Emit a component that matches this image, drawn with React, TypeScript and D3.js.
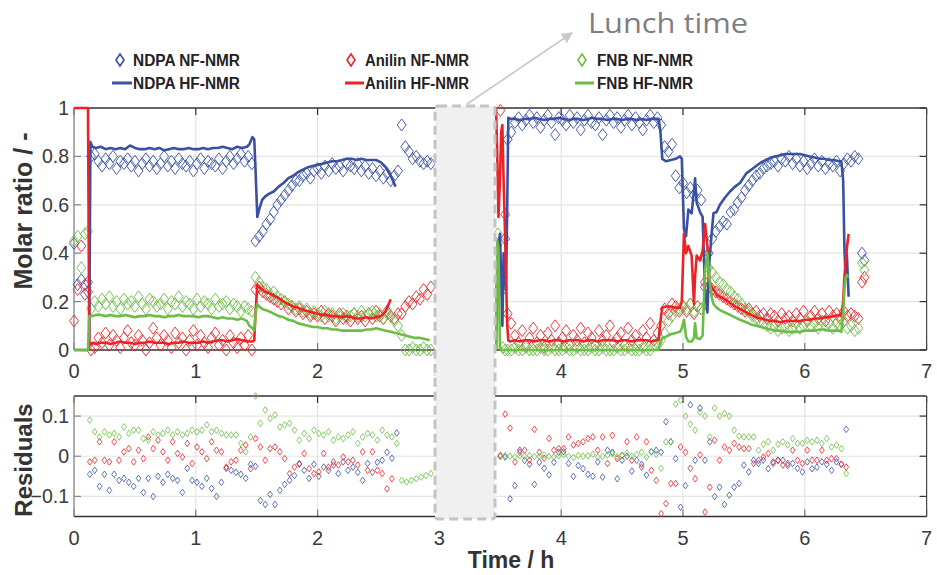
import React from 'react';
import * as d3 from 'd3';

// ---------------- DATA ----------------
// NF-NMR (benchtop) sampling times, h
const tNF = [
  0.0, 0.03, 0.06, 0.09, 0.115,
  0.14, 0.17, 0.2, 0.23, 0.26, 0.29, 0.32, 0.35, 0.38, 0.41, 0.44, 0.47, 0.5, 0.53, 0.56, 0.59, 0.62, 0.65, 0.68, 0.71, 0.74, 0.77, 0.8, 0.83, 0.86, 0.89, 0.92, 0.95, 0.98, 1.01, 1.04, 1.07, 1.1, 1.13, 1.16, 1.19, 1.22, 1.25, 1.28, 1.31, 1.34, 1.37, 1.4, 1.43, 1.46,
  1.49, 1.52, 1.55, 1.58, 1.61, 1.64, 1.67, 1.7, 1.73, 1.76, 1.79, 1.82, 1.85, 1.88, 1.91, 1.94, 1.97, 2.0, 2.03, 2.06, 2.09, 2.12, 2.15, 2.18, 2.21, 2.24, 2.27, 2.3, 2.33, 2.36, 2.39, 2.42, 2.45, 2.48, 2.51, 2.54, 2.57, 2.6, 2.63, 2.66, 2.69, 2.72, 2.75, 2.78, 2.81, 2.84, 2.87, 2.9, 2.93,
  3.48, 3.5, 3.52, 3.54, 3.56,
  3.59, 3.62, 3.65, 3.68, 3.71, 3.74, 3.77, 3.8, 3.83, 3.86, 3.89, 3.92, 3.95, 3.98, 4.01, 4.04, 4.07, 4.1, 4.13, 4.16, 4.19, 4.22, 4.25, 4.28, 4.31, 4.34, 4.37, 4.4, 4.43, 4.46, 4.49, 4.52, 4.55, 4.58, 4.61, 4.64, 4.67, 4.7, 4.73, 4.76, 4.79,
  4.82, 4.85, 4.88, 4.91, 4.94, 4.97,
  5.0, 5.03, 5.06, 5.09, 5.12, 5.15, 5.18, 5.21, 5.24,
  5.27, 5.3, 5.33, 5.36, 5.39, 5.42, 5.45, 5.48, 5.51, 5.54, 5.57, 5.6, 5.63, 5.66, 5.69, 5.72, 5.75, 5.78, 5.81, 5.84, 5.87, 5.9, 5.93, 5.96, 5.99, 6.02, 6.05, 6.08, 6.11, 6.14, 6.17, 6.2, 6.23, 6.26, 6.29, 6.32, 6.35, 6.38, 6.41, 6.44,
  6.47, 6.49,
];

const ndpaNF = [
  0.44, 0.27, 0.29, 0.23, 0.28,
  0.8, 0.81, 0.78, 0.76, 0.79, 0.77, 0.8, 0.75, 0.78, 0.77, 0.79, 0.76, 0.78, 0.74, 0.77, 0.79, 0.76, 0.78, 0.75, 0.77, 0.8, 0.76, 0.78, 0.75, 0.79, 0.77, 0.76, 0.78, 0.74, 0.77, 0.79, 0.75, 0.78, 0.77, 0.76, 0.79, 0.75, 0.78, 0.8, 0.77, 0.79, 0.81, 0.78, 0.8, 0.77,
  0.45, 0.47, 0.49, 0.52, 0.54, 0.57, 0.6, 0.62, 0.64, 0.66, 0.68, 0.7, 0.7, 0.72, 0.73, 0.71, 0.74, 0.75, 0.73, 0.76, 0.74, 0.77, 0.75, 0.76, 0.74, 0.77, 0.76, 0.75, 0.77, 0.74, 0.76, 0.73, 0.75, 0.72, 0.74, 0.71, 0.73, 0.7, 0.72, 0.74, 0.93, 0.84, 0.82, 0.79, 0.8, 0.78, 0.77, 0.78, 0.77,
  0.27, 0.25, 0.3, 0.46, 0.87,
  0.9, 0.94, 0.96, 0.93, 0.95, 0.97, 0.94, 0.96, 0.92, 0.95, 0.97, 0.94, 0.89, 0.96, 0.95, 0.93, 0.97, 0.94, 0.96, 0.91, 0.95, 0.97, 0.94, 0.93, 0.96, 0.89, 0.95, 0.97, 0.94, 0.96, 0.92, 0.95, 0.97, 0.93, 0.96, 0.94, 0.91, 0.95, 0.97, 0.94, 0.96,
  0.93, 0.84, 0.82, 0.85, 0.72, 0.67,
  0.69, 0.65, 0.67, 0.64, 0.66, 0.62, 0.26, 0.4, 0.46,
  0.49, 0.51, 0.53, 0.52, 0.57, 0.58, 0.61, 0.63, 0.66, 0.68, 0.7, 0.72, 0.73, 0.75, 0.76, 0.77, 0.78, 0.76, 0.79, 0.78, 0.8, 0.77, 0.79, 0.76, 0.78, 0.75, 0.77, 0.79, 0.76, 0.78, 0.75, 0.77, 0.76, 0.78, 0.74, 0.77, 0.79, 0.78, 0.8, 0.79,
  0.4, 0.37,
];

const anilinNF = [
  0.12, 0.25, 0.43, 0.27, 0.24,
  0.0, 0.01, 0.05, 0.03, 0.07, 0.02, 0.06, 0.04, 0.01, 0.05, 0.08, 0.03, 0.02, 0.06, 0.04, 0.0, 0.03, 0.09, 0.05, 0.02, 0.06, 0.04, 0.01, 0.07, 0.03, 0.05, 0.0, 0.04, 0.08, 0.02, 0.06, 0.03, 0.01, 0.05, 0.07, 0.02, 0.04, 0.0, 0.06, 0.03, 0.01, 0.05, 0.02, 0.06, 0.0,
  0.25, 0.26, 0.24, 0.23, 0.22, 0.21, 0.2, 0.19, 0.2, 0.17, 0.18, 0.16, 0.17, 0.15, 0.16, 0.14, 0.15, 0.14, 0.16, 0.13, 0.15, 0.14, 0.12, 0.15, 0.13, 0.14, 0.12, 0.15, 0.13, 0.14, 0.12, 0.15, 0.13, 0.16, 0.14, 0.13, 0.16, 0.14, 0.13, 0.15, 0.15, 0.18, 0.2, 0.19, 0.22, 0.21, 0.25, 0.23, 0.26,
  0.28, 0.99, 0.25, 0.56, 0.15,
  0.11, 0.06, 0.03, 0.08, 0.02, 0.05, 0.09, 0.03, 0.06, 0.01, 0.07, 0.04, 0.1, 0.03, 0.05, 0.08, 0.02, 0.06, 0.04, 0.09, 0.03, 0.07, 0.05, 0.02, 0.08, 0.04, 0.06, 0.1, 0.03, 0.05, 0.07, 0.02, 0.09, 0.04, 0.06, 0.03, 0.08, 0.05, 0.11, 0.04, 0.07,
  0.1, 0.17, 0.15, 0.19, 0.18, 0.16,
  0.18, 0.16, 0.19, 0.15, 0.18, 0.17, 0.28, 0.26, 0.25,
  0.24, 0.23, 0.22, 0.21, 0.2, 0.19, 0.18, 0.17, 0.16, 0.17, 0.15, 0.16, 0.14, 0.15, 0.13, 0.15, 0.14, 0.12, 0.15, 0.13, 0.14, 0.12, 0.15, 0.13, 0.16, 0.12, 0.14, 0.16, 0.13, 0.15, 0.12, 0.16, 0.14, 0.15, 0.13, 0.16, 0.14, 0.15, 0.14, 0.13,
  0.28, 0.3,
];

const fnbNF = [
  0.45, 0.47, 0.34, 0.48, 0.49,
  0.17, 0.2, 0.18, 0.21, 0.19, 0.22, 0.18, 0.2, 0.17, 0.21, 0.19, 0.2, 0.18, 0.22, 0.19, 0.17, 0.21, 0.2, 0.18, 0.19, 0.21, 0.17, 0.2, 0.19, 0.22, 0.18, 0.2, 0.19, 0.17, 0.21, 0.18, 0.2, 0.19, 0.17, 0.21, 0.18, 0.19, 0.2, 0.17, 0.19, 0.18, 0.16, 0.18, 0.17, 0.16,
  0.3, 0.28, 0.26, 0.25, 0.23, 0.24, 0.22, 0.21, 0.2, 0.19, 0.18, 0.17, 0.18, 0.16, 0.17, 0.15, 0.16, 0.15, 0.14, 0.16, 0.14, 0.15, 0.13, 0.14, 0.15, 0.13, 0.14, 0.15, 0.14, 0.16, 0.14, 0.15, 0.16, 0.14, 0.15, 0.13, 0.15, 0.14, 0.12, 0.1, 0.06, 0.0, 0.0, 0.01, 0.0, 0.0, 0.01, 0.0, 0.0,
  0.48, 0.45, 0.01, 0.0, 0.0,
  0.0, 0.01, 0.0, 0.0, 0.01, 0.0, 0.0, 0.0, 0.01, 0.0, 0.0, 0.01, 0.0, 0.0, 0.0, 0.01, 0.0, 0.0, 0.01, 0.0, 0.0, 0.0, 0.01, 0.0, 0.0, 0.01, 0.0, 0.0, 0.0, 0.01, 0.0, 0.0, 0.01, 0.0, 0.0, 0.0, 0.01, 0.0, 0.0, 0.02, 0.03,
  0.04, 0.07, 0.12, 0.14, 0.16, 0.17,
  0.18, 0.17, 0.19, 0.16, 0.18, 0.17, 0.38, 0.34, 0.32,
  0.3, 0.28, 0.27, 0.25, 0.24, 0.22, 0.21, 0.19, 0.17, 0.16, 0.14, 0.13, 0.12, 0.11, 0.1, 0.09, 0.1, 0.08, 0.09, 0.1, 0.08, 0.09, 0.11, 0.09, 0.1, 0.12, 0.1, 0.11, 0.09, 0.12, 0.1, 0.11, 0.09, 0.11, 0.1, 0.12, 0.09, 0.1, 0.08, 0.09,
  0.36, 0.33,
];

// HF-NMR (high field) times, first session
const tHF1 = [
  0.0, 0.115, 0.125, 0.135, 0.15,
  0.18, 0.22, 0.26, 0.3, 0.34, 0.38, 0.42, 0.46, 0.5, 0.54, 0.58, 0.62, 0.66, 0.7, 0.74, 0.78, 0.82, 0.86, 0.9, 0.94, 0.98, 1.02, 1.06, 1.1, 1.14, 1.18, 1.22, 1.26, 1.3, 1.34, 1.38, 1.42,
  1.44, 1.465, 1.48, 1.49, 1.505, 1.52, 1.545, 1.57,
  1.6, 1.64, 1.68, 1.72, 1.76, 1.8, 1.84, 1.88, 1.92, 1.96, 2.0, 2.04, 2.08, 2.12, 2.16, 2.2, 2.24, 2.28, 2.32, 2.36, 2.4, 2.44, 2.48, 2.52, 2.56, 2.6, 2.64, 2.68, 2.72, 2.76, 2.8, 2.84, 2.88, 2.92,
];
const ndpaHF1 = [
  0, 0, 0.02, 0.86, 0.84,
  0.835, 0.84, 0.83, 0.835, 0.83, 0.835, 0.83, 0.845, 0.835, 0.83, 0.83, 0.835, 0.83, 0.835, 0.825, 0.83, 0.835, 0.83, 0.83, 0.835, 0.83, 0.83, 0.835, 0.83, 0.835, 0.835, 0.84, 0.835, 0.83, 0.84, 0.835, 0.84,
  0.85, 0.88, 0.87, 0.75, 0.55, 0.58, 0.62, 0.635,
  0.645, 0.655, 0.675, 0.69, 0.71, 0.72, 0.735, 0.745, 0.755, 0.76, 0.765, 0.77, 0.775, 0.78, 0.78, 0.785, 0.79, 0.79, 0.785, 0.79, 0.785, 0.785, 0.785, 0.775, 0.755, 0.72, 0.675, null, null, null, null, null, null, null,
];
const anilinHF1 = [
  1, 1, 0.03, 0.025, 0.03,
  0.025, 0.03, 0.03, 0.025, 0.03, 0.035, 0.03, 0.03, 0.025, 0.03, 0.03, 0.035, 0.03, 0.03, 0.03, 0.025, 0.03, 0.03, 0.035, 0.03, 0.03, 0.03, 0.035, 0.03, 0.035, 0.04, 0.04, 0.035, 0.04, 0.045, 0.04, 0.035,
  0.035, 0.035, 0.04, 0.15, 0.27, 0.26, 0.25, 0.24,
  0.235, 0.225, 0.215, 0.2, 0.19, 0.18, 0.175, 0.165, 0.16, 0.155, 0.15, 0.145, 0.145, 0.14, 0.14, 0.135, 0.14, 0.135, 0.13, 0.13, 0.135, 0.13, 0.135, 0.14, 0.16, 0.21, null, null, null, null, null, null, null, null,
];
const fnbHF1 = [
  0, 0, 0.14, 0.14, 0.14,
  0.145, 0.145, 0.14, 0.145, 0.14, 0.14, 0.145, 0.14, 0.135, 0.14, 0.14, 0.145, 0.14, 0.14, 0.135, 0.14, 0.14, 0.145, 0.14, 0.14, 0.14, 0.135, 0.14, 0.14, 0.135, 0.13, 0.135, 0.13, 0.13, 0.125, 0.13, 0.12,
  0.1, 0.09, 0.08, 0.15, 0.19, 0.18, 0.17, 0.165,
  0.16, 0.15, 0.14, 0.135, 0.125, 0.12, 0.11, 0.105, 0.1, 0.095, 0.095, 0.09, 0.09, 0.085, 0.085, 0.08, 0.08, 0.08, 0.08, 0.08, 0.085, 0.085, 0.09, 0.085, 0.08, 0.075, 0.07, 0.065, 0.06, 0.055, 0.05, 0.05, 0.045, 0.04,
];

// HF-NMR, second session (after lunch)
const tHF2 = [
  3.465, 3.475, 3.485, 3.497, 3.507, 3.517, 3.527, 3.537, 3.547, 3.557, 3.566, 3.58,
  3.62, 3.66, 3.7, 3.74, 3.78, 3.82, 3.86, 3.9, 3.94, 3.98, 4.02, 4.06, 4.1, 4.14, 4.18, 4.22, 4.26, 4.3, 4.34, 4.38, 4.42, 4.46, 4.5, 4.54, 4.58, 4.62, 4.66, 4.7, 4.74, 4.78,
  4.8, 4.815, 4.83, 4.86, 4.9, 4.94, 4.975, 4.99, 5.008, 5.025, 5.044, 5.071, 5.09, 5.099, 5.112, 5.14, 5.161, 5.181, 5.2, 5.216, 5.235, 5.25, 5.276, 5.303, 5.345, 5.386, 5.427, 5.468,
  5.52, 5.56, 5.6, 5.64, 5.68, 5.72, 5.76, 5.8, 5.84, 5.88, 5.92, 5.96, 6.0, 6.04, 6.08, 6.12, 6.16, 6.2, 6.24, 6.28,
  6.3, 6.315, 6.325, 6.335, 6.345, 6.36,
];
const ndpaHF2 = [
  0.0, 0.3, 0.42, 0.48, 0.3, 0.1, 0.4, 0.3, 0.25, 0.6, 0.96, 0.955,
  0.955, 0.95, 0.955, 0.955, 0.96, 0.955, 0.95, 0.955, 0.955, 0.96, 0.955, 0.95, 0.955, 0.955, 0.95, 0.955, 0.96, 0.955, 0.955, 0.95, 0.955, 0.955, 0.95, 0.955, 0.955, 0.95, 0.955, 0.95, 0.955, 0.955,
  0.955, 0.9, 0.79, 0.78, 0.785, 0.79, 0.8, 0.79, 0.5, 0.47, 0.58, 0.565, 0.66, 0.71, 0.61, 0.57, 0.55, 0.25, 0.155, 0.36, 0.48, 0.565, 0.57, 0.6, 0.63, 0.655, 0.675, 0.69,
  0.73, 0.745, 0.76, 0.775, 0.785, 0.795, 0.8, 0.805, 0.81, 0.81, 0.81, 0.81, 0.805, 0.8, 0.795, 0.79, 0.79, 0.785, 0.785, 0.78,
  0.78, 0.7, 0.43, 0.3, 0.4, 0.22,
];
const anilinHF2 = [
  1.0, 0.8, 0.55, 0.7, 0.9, 0.93, 0.7, 0.52, 0.3, 0.1, 0.04, 0.035,
  0.04, 0.035, 0.04, 0.04, 0.035, 0.04, 0.04, 0.035, 0.04, 0.04, 0.035, 0.04, 0.04, 0.04, 0.035, 0.04, 0.04, 0.035, 0.04, 0.04, 0.04, 0.035, 0.04, 0.04, 0.035, 0.04, 0.04, 0.04, 0.035, 0.04,
  0.04, 0.12, 0.175, 0.18, 0.18, 0.175, 0.175, 0.2, 0.48, 0.4, 0.43, 0.39, 0.19, 0.3, 0.39, 0.37, 0.41, 0.52, 0.43, 0.29, 0.26, 0.25, 0.23, 0.22, 0.21, 0.195, 0.18, 0.17,
  0.155, 0.145, 0.135, 0.13, 0.125, 0.12, 0.12, 0.115, 0.12, 0.12, 0.12, 0.12, 0.125, 0.125, 0.13, 0.13, 0.135, 0.135, 0.14, 0.145,
  0.14, 0.2, 0.3, 0.36, 0.42, 0.48,
];
const fnbHF2 = [
  0.0, 0.45, 0.42, 0.02, 0.0, 0.0, 0.0, 0.0, 0.0, 0.0, 0.0, 0.0,
  0.0, 0.0, 0.0, 0.0, 0.0, 0.0, 0.0, 0.0, 0.0, 0.0, 0.0, 0.0, 0.0, 0.0, 0.0, 0.0, 0.0, 0.0, 0.0, 0.0, 0.0, 0.0, 0.0, 0.0, 0.0, 0.0, 0.0, 0.0, 0.0, 0.0,
  0.0, 0.03, 0.05, 0.055, 0.065, 0.07, 0.075, 0.09, 0.125, 0.055, 0.035, 0.035, 0.05, 0.11, 0.05, 0.045, 0.06, 0.33, 0.4, 0.3, 0.22, 0.19, 0.175, 0.165, 0.155, 0.145, 0.135, 0.125,
  0.115, 0.105, 0.1, 0.095, 0.09, 0.085, 0.08, 0.08, 0.075, 0.075, 0.075, 0.075, 0.08, 0.08, 0.08, 0.085, 0.085, 0.08, 0.08, 0.08,
  0.075, 0.15, 0.25, 0.3, 0.31, 0.3,
];

// Residuals (NF - HF)
const tRes = [
  0.13, 0.17, 0.21, 0.25, 0.29, 0.33, 0.37, 0.41, 0.45, 0.49, 0.53, 0.57, 0.61, 0.65, 0.69, 0.73, 0.77, 0.81, 0.85, 0.89, 0.93, 0.97, 1.01, 1.05, 1.09, 1.13, 1.17, 1.21, 1.25, 1.29, 1.33, 1.37, 1.41, 1.45,
  1.49, 1.53, 1.57, 1.61, 1.65, 1.69, 1.73, 1.77, 1.81, 1.85, 1.89, 1.93, 1.97, 2.01, 2.05, 2.09, 2.13, 2.17, 2.21, 2.25, 2.29, 2.33, 2.37, 2.41, 2.45, 2.49, 2.53, 2.57, 2.61, 2.65, 2.69, 2.73, 2.77, 2.81, 2.85, 2.89, 2.93,
  3.5, 3.54, 3.58, 3.62, 3.66, 3.7, 3.74, 3.78, 3.82, 3.86, 3.9, 3.94, 3.98, 4.02, 4.06, 4.1, 4.14, 4.18, 4.22, 4.26, 4.3, 4.34, 4.38, 4.42, 4.46, 4.5, 4.54, 4.58, 4.62, 4.66, 4.7, 4.74, 4.78,
  4.82, 4.86, 4.9, 4.94, 4.98, 5.02, 5.06, 5.1, 5.14, 5.18, 5.22, 5.26, 5.3, 5.34, 5.38, 5.42, 5.46, 5.5, 5.54, 5.58, 5.62, 5.66, 5.7, 5.74, 5.78, 5.82, 5.86, 5.9, 5.94, 5.98, 6.02, 6.06, 6.1, 6.14, 6.18, 6.22, 6.26, 6.3, 6.34,
];
const ndpaRes = [
  -0.045, -0.035, -0.075, -0.045, -0.085, -0.045, -0.06, -0.055, -0.065, -0.075, -0.055, -0.09, -0.055, -0.1, -0.05, -0.065, -0.045, -0.055, -0.06, -0.09, -0.03, -0.06, -0.065, -0.075, -0.055, -0.08, -0.1, -0.065, -0.03, -0.035, -0.04, -0.045, -0.055, -0.02,
  -0.025, -0.11, -0.12, -0.095, -0.12, -0.085, -0.07, -0.06, -0.048, -0.02, -0.035, -0.055, -0.02, -0.05, -0.027, -0.035, -0.022, -0.043, -0.014, -0.035, -0.027, -0.04, -0.06, -0.018, -0.04, -0.015, -0.01, 0.01, -0.005, 0.058, null, null, null, null, null, null, null,
  0.0, -0.002, -0.106, -0.073, 0.015, -0.01, -0.02, -0.07, -0.015, -0.03, -0.046, -0.015, 0.01, 0.011, -0.018, -0.05, -0.023, -0.031, -0.045, -0.05, -0.014, -0.052, 0.015, 0.01, -0.056, -0.01, 0.0, -0.037, -0.01, -0.02, -0.047, 0.011, 0.015,
  0.01, 0.086, 0.036, -0.006, -0.127, -0.073, 0.128, -0.01, 0.12, -0.01, 0.036, -0.1, -0.077, -0.12, -0.097, -0.077, -0.068, -0.022, -0.039, -0.01, -0.018, -0.01, -0.031, -0.014, -0.01, -0.01, -0.023, -0.018, -0.03, -0.039, -0.014, -0.031, -0.027, -0.014, -0.02, -0.035, -0.014, -0.02, 0.067,
];
const anilinRes = [
  -0.014, -0.01, 0.036, -0.01, -0.014, 0.036, -0.01, 0.011, 0.019, -0.014, 0.015, -0.006, 0.048, 0.019, 0.04, 0.011, -0.01, 0.036, 0.007, -0.002, 0.032, -0.018, 0.023, 0.011, -0.006, 0.036, 0.015, 0.011, -0.027, -0.014, -0.01, 0.015, 0.028, -0.031,
  0.044, 0.023, -0.01, 0.019, 0.023, 0.011, -0.006, -0.043, -0.027, -0.018, 0.007, -0.031, -0.043, -0.039, 0.007, -0.027, -0.014, -0.022, -0.002, -0.014, -0.01, -0.022, 0.011, -0.035, 0.011, -0.035, -0.043, -0.081, -0.056, null, null, null, null, null, null, null, null,
  0.002, 0.105, 0.07, -0.014, 0.01, 0.015, -0.01, 0.067, 0.01, -0.005, 0.044, 0.015, 0.019, 0.019, 0.048, 0.028, 0.032, 0.036, 0.044, 0.048, 0.015, 0.048, -0.018, 0.052, -0.006, 0.002, 0.036, -0.01, 0.048, -0.027, 0.036, -0.035, -0.06,
  -0.143, -0.118, -0.068, -0.068, 0.023, 0.01, -0.03, -0.056, 0.003, -0.139, -0.077, 0.04, -0.01, 0.023, 0.015, 0.032, 0.023, 0.019, 0.019, -0.018, -0.01, -0.002, 0.007, -0.018, -0.01, -0.022, -0.018, 0.015, -0.01, -0.018, 0.015, -0.01, -0.01, 0.015, -0.01, -0.006, -0.006, -0.02, -0.027,
];
const fnbRes = [
  0.09, 0.061, 0.048, 0.061, 0.053, 0.057, 0.048, 0.073, 0.057, 0.065, 0.065, 0.044, 0.04, 0.061, 0.053, 0.057, 0.065, 0.053, 0.061, 0.053, 0.057, 0.065, 0.061, 0.065, 0.078, 0.061, 0.065, 0.057, 0.053, 0.053, 0.053, 0.032, 0.011, 0.048,
  0.15, 0.082, 0.115, 0.094, 0.103, 0.073, 0.078, 0.082, 0.065, 0.04, 0.057, 0.044, 0.065, 0.057, 0.053, 0.061, 0.04, 0.048, 0.044, 0.053, 0.061, 0.032, 0.048, 0.057, 0.053, 0.04, 0.065, 0.053, 0.048, 0.032, -0.06, -0.064, -0.06, -0.056, -0.052, -0.048, -0.043,
  0.0, 0.002, 0.0, -0.002, 0.001, 0.0, 0.002, -0.001, 0.0, 0.003, 0.0, -0.002, 0.001, 0.004, 0.0, -0.003, 0.002, 0.0, 0.001, 0.005, -0.002, 0.0, 0.003, 0.006, -0.001, 0.002, 0.008, 0.0, 0.004, 0.01, -0.002, 0.012, 0.005,
  -0.03, 0.036, 0.036, 0.13, 0.14, 0.1, 0.08, 0.065, 0.11, 0.1, 0.048, 0.12, 0.1, 0.107, 0.1, 0.065, 0.05, 0.048, 0.048, 0.048, 0.015, 0.03, 0.036, 0.015, 0.03, 0.036, 0.028, 0.044, 0.032, 0.032, 0.04, 0.036, 0.04, 0.032, 0.044, 0.023, 0.028, 0.019, -0.043,
];

const xTicks = [0, 1, 2, 3, 4, 5, 6, 7];
const yTicksTop = [0, 0.2, 0.4, 0.6, 0.8, 1];
const yTicksRes = [-0.1, 0, 0.1];
const legendRow1 = ['NDPA NF-NMR', 'Anilin NF-NMR', 'FNB NF-NMR'];
const legendRow2 = ['NDPA HF-NMR', 'Anilin HF-NMR', 'FNB HF-NMR'];

// ---------------- STYLE ----------------
const BLUE = '#3a50a3';
const RED = '#ec2227';
const GREEN = '#6cbd45';
const FONT = '"Liberation Sans", Arial, Helvetica, sans-serif';

const x = d3.scaleLinear().domain([0, 7]).range([74, 926.6]);
const yTop = d3.scaleLinear().domain([0, 1]).range([350, 108]);
const yRes = d3.scaleLinear().domain([-0.15, 0.15]).range([516.5, 396]);

type Pt = [number, number | null];
const zip = (t: number[], v: (number | null)[]): Pt[] => t.map((tt, i) => [tt, v[i]]);

function diamond(cx: number, cy: number, hw: number, hh: number) {
  return `M${cx},${cy - hh}L${cx + hw},${cy}L${cx},${cy + hh}L${cx - hw},${cy}Z`;
}

function Markers({ t, v, y, color, hw, hh, sw }: { t: number[]; v: (number | null)[]; y: d3.ScaleLinear<number, number>; color: string; hw: number; hh: number; sw: number }) {
  const d = zip(t, v)
    .filter((p) => p[1] != null)
    .map((p) => diamond(x(p[0]), y(p[1] as number), hw, hh))
    .join('');
  return <path d={d} fill="none" stroke={color} strokeWidth={sw} strokeOpacity={0.9} />;
}

function Line({ t, v, color }: { t: number[]; v: (number | null)[]; color: string }) {
  const gen = d3
    .line<Pt>()
    .defined((p) => p[1] != null)
    .x((p) => x(p[0]))
    .y((p) => yTop(p[1] as number));
  return <path d={gen(zip(t, v)) || ''} fill="none" stroke={color} strokeWidth={2.6} strokeLinejoin="round" />;
}

function Frame({ top, bottom, yScale, yTicks, fmt, xLabels, xLabelY }: { top: number; bottom: number; yScale: d3.ScaleLinear<number, number>; yTicks: number[]; fmt: (v: number) => string; xLabels: boolean; xLabelY: number }) {
  const L = x(0), R = x(7);
  return (
    <g>
      {xTicks.map((t) => (
        <g key={'xt' + t}>
          <line x1={x(t)} x2={x(t)} y1={top} y2={top + 7} stroke="#333" strokeWidth={1.2} />
          <line x1={x(t)} x2={x(t)} y1={bottom} y2={bottom - 7} stroke="#777" strokeWidth={1.2} />
        </g>
      ))}
      {yTicks.map((v) => (
        <g key={'yt' + v}>
          <line x1={R} x2={R - 7} y1={yScale(v)} y2={yScale(v)} stroke="#333" strokeWidth={1.2} />
          <line x1={L} x2={L + 7} y1={yScale(v)} y2={yScale(v)} stroke="#888" strokeWidth={1.2} />
        </g>
      ))}
      <line x1={L} x2={R} y1={top} y2={top} stroke="#333" strokeWidth={1.4} />
      <line x1={L} x2={R} y1={bottom} y2={bottom} stroke="#333" strokeWidth={1.4} />
      <line x1={R} x2={R} y1={top} y2={bottom} stroke="#444" strokeWidth={1.2} />
      <line x1={L} x2={L} y1={top} y2={bottom} stroke="#8a8a8a" strokeWidth={1.4} />
      {yTicks.map((v) => (
        <text key={'yl' + v} x={69} y={yScale(v) + 7} textAnchor="end" fontSize={19.5} fill="#3a3a3a" fontFamily={FONT}>
          {fmt(v)}
        </text>
      ))}
      {xLabels &&
        xTicks.map((t) => (
          <text key={'xl' + t} x={x(t)} y={xLabelY} textAnchor="middle" fontSize={20} fill="#3a3a3a" fontFamily={FONT}>
            {t}
          </text>
        ))}
    </g>
  );
}

function Grid({ top, bottom, yScale, yTicks }: { top: number; bottom: number; yScale: d3.ScaleLinear<number, number>; yTicks: number[] }) {
  return (
    <g stroke="#e4e4e4" strokeWidth={1.2}>
      {xTicks.slice(1, -1).map((t) => (
        <line key={'gx' + t} x1={x(t)} x2={x(t)} y1={top} y2={bottom} />
      ))}
      {yTicks.map((v) => (
        <line key={'gy' + v} x1={x(0)} x2={x(7)} y1={yScale(v)} y2={yScale(v)} />
      ))}
    </g>
  );
}

export default function App() {
  const fmtTop = (v: number) => (v === 0 || v === 1 ? String(v) : v.toFixed(1));
  const fmtRes = (v: number) => (v === 0 ? '0' : v < 0 ? '\u2212' + Math.abs(v).toFixed(1) : v.toFixed(1));
  const legendX = [
    { mx: 120, lx1: 112, lx2: 132, tx: 133, tw: 107, c: BLUE },
    { mx: 351, lx1: 345, lx2: 364, tx: 365, tw: 104, c: RED },
    { mx: 582, lx1: 575, lx2: 594, tx: 597, tw: 96, c: GREEN },
  ];
  return (
    <svg width={937} height={575} style={{ position: 'absolute', left: 0, top: 0, background: '#fff' }} fontFamily={FONT}>
      <defs>
        <clipPath id="clipTop">
          <rect x={x(0) - 2} y={yTop(1) - 3} width={x(7) - x(0) + 4} height={yTop(0) - yTop(1) + 6} />
        </clipPath>
        <marker id="arrowHead" viewBox="0 0 10 10" refX="9" refY="5" markerWidth="7" markerHeight="7" orient="auto">
          <path d="M0,0L10,5L0,10Z" fill="#c8c8c8" />
        </marker>
      </defs>
      <rect x={0} y={0} width={937} height={575} fill="#fff" />

      {/* Top panel */}
      <Grid top={yTop(1)} bottom={yTop(0)} yScale={yTop} yTicks={yTicksTop.slice(1, -1)} />
      <Frame top={yTop(1)} bottom={yTop(0)} yScale={yTop} yTicks={yTicksTop} fmt={fmtTop} xLabels={true} xLabelY={378} />
      <Markers t={tNF} v={ndpaNF} y={yTop} color={BLUE} hw={4.5} hh={6} sw={1} />
      <Markers t={tNF} v={anilinNF} y={yTop} color={RED} hw={4.5} hh={6} sw={1} />
      <Markers t={tNF} v={fnbNF} y={yTop} color={GREEN} hw={4.5} hh={6} sw={1} />
      <g clipPath="url(#clipTop)">
        <Line t={tHF1} v={ndpaHF1} color={BLUE} />
        <Line t={tHF2} v={ndpaHF2} color={BLUE} />
        <Line t={tHF1} v={anilinHF1} color={RED} />
        <Line t={tHF2} v={anilinHF2} color={RED} />
        <Line t={tHF1} v={fnbHF1} color={GREEN} />
        <Line t={tHF2} v={fnbHF2} color={GREEN} />
      </g>

      {/* Residual panel */}
      <Grid top={yRes(0.15)} bottom={yRes(-0.15)} yScale={yRes} yTicks={yTicksRes} />
      <Frame top={yRes(0.15)} bottom={yRes(-0.15)} yScale={yRes} yTicks={yTicksRes} fmt={fmtRes} xLabels={true} xLabelY={545} />
      <Markers t={tRes} v={ndpaRes} y={yRes} color={BLUE} hw={2.4} hh={3.3} sw={0.9} />
      <Markers t={tRes} v={anilinRes} y={yRes} color={RED} hw={2.4} hh={3.3} sw={0.9} />
      <Markers t={tRes} v={fnbRes} y={yRes} color={GREEN} hw={2.4} hh={3.3} sw={0.9} />

      {/* Axis labels */}
      <text transform="translate(32,211) rotate(-90)" textAnchor="middle" fontSize={25} fontWeight="bold" fill="#333">
        Molar ratio / -
      </text>
      <text transform="translate(32,460) rotate(-90)" textAnchor="middle" fontSize={24} fontWeight="bold" fill="#333">
        Residuals
      </text>
      <text x={511} y={568} textAnchor="middle" fontSize={23} fontWeight="bold" fill="#333">
        Time / h
      </text>

      {/* Legend */}
      {legendX.map((l, i) => (
        <g key={'lg' + i}>
          <path d={diamond(l.mx, 60, 4, 6)} fill="none" stroke={l.c} strokeWidth={1.6} />
          <text x={l.tx} y={66} fontSize={16} fontWeight="bold" fill="#222" textLength={l.tw} lengthAdjust="spacingAndGlyphs">
            {legendRow1[i]}
          </text>
          <line x1={l.lx1} x2={l.lx2} y1={83} y2={83} stroke={l.c} strokeWidth={3} />
          <text x={l.tx} y={89} fontSize={16} fontWeight="bold" fill="#222" textLength={l.tw} lengthAdjust="spacingAndGlyphs">
            {legendRow2[i]}
          </text>
        </g>
      ))}

      {/* Lunch time annotation */}
      <line x1={467} y1={104} x2={572} y2={33} stroke="#c8c8c8" strokeWidth={1.6} markerEnd="url(#arrowHead)" />
      <rect x={435} y={106} width={60} height={413} rx={3} fill="#eff0ef" stroke="#c4c4c4" strokeWidth={3} strokeDasharray="9,5" />
      <text x={588} y={33} fontSize={28} fill="#7f7f7f" fontFamily='"Open Sans", "Noto Sans", sans-serif' textLength={160} lengthAdjust="spacingAndGlyphs">
        Lunch time
      </text>
    </svg>
  );
}
